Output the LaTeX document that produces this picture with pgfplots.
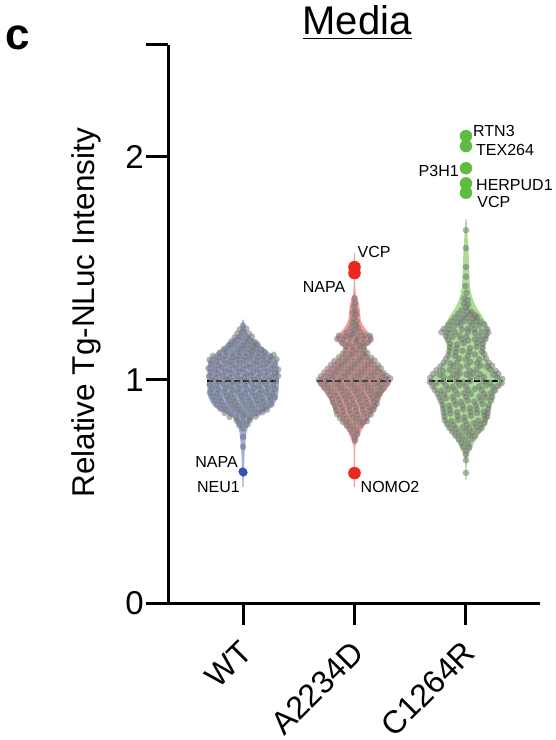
\documentclass[border=0pt]{standalone}
\usepackage{fontspec}
\setmainfont{Liberation Sans}
\usepackage{pgfplots}
\pgfplotsset{compat=1.18}
\definecolor{wtfill}{RGB}{158,175,225}
\definecolor{afill}{RGB}{243,158,152}
\definecolor{cfill}{RGB}{170,220,150}
\definecolor{wtdot}{RGB}{52,82,176}
\definecolor{adot}{RGB}{234,40,30}
\definecolor{cdot}{RGB}{94,188,64}
\begin{document}
\begin{tikzpicture}
\useasboundingbox (0,0) rectangle (556pt,740pt);
\begin{axis}[
  at={(168pt,137pt)}, anchor=south west,
  scale only axis, width=372pt, height=558pt,
  xmin=0.327, xmax=3.664, ymin=0, ymax=2.5,
  axis lines=left,
  axis line style={line width=3pt, -},
  every tick/.style={line width=3pt, black},
  tick align=outside,
  major tick length=22pt,
  xtick={1,2,3}, xticklabels={},
  ytick={0,1,2,2.5}, yticklabels={0,1,2,{}},
  /pgf/number format/assume math mode=true,
  yticklabel style={font=\fontsize{33}{36}\selectfont, inner sep=2pt},
  ylabel={Relative Tg-NLuc Intensity},
  ylabel style={at={(axis description cs:-0.22,0.52)}, anchor=center, font=\fontsize{31.5}{34}\selectfont},
  clip=false,
]
% violins
\addplot[fill=wtfill, draw=none] coordinates {
(1.005,1.27) (1.012,1.25) (1.022,1.23) (1.035,1.21) (1.075,1.19) (1.135,1.165) (1.19,1.14) (1.24,1.12) (1.285,1.10) (1.31,1.085) (1.32,1.05) (1.322,1.00) (1.32,0.95) (1.31,0.92) (1.29,0.90) (1.26,0.88) (1.22,0.865) (1.16,0.85) (1.085,0.83) (1.06,0.81) (1.045,0.79) (1.03,0.76) (1.022,0.72) (1.015,0.68) (1.01,0.62) (1.007,0.56) (1.005,0.52)
(0.995,0.52) (0.993,0.56) (0.99,0.62) (0.985,0.68) (0.978,0.72) (0.97,0.76) (0.955,0.79) (0.94,0.81) (0.915,0.83) (0.84,0.85) (0.78,0.865) (0.74,0.88) (0.71,0.90) (0.69,0.92) (0.68,0.95) (0.678,1.00) (0.68,1.05) (0.69,1.085) (0.715,1.10) (0.76,1.12) (0.81,1.14) (0.865,1.165) (0.925,1.19) (0.965,1.21) (0.978,1.23) (0.988,1.25) (0.995,1.27)
} --cycle;
\addplot[fill=afill, draw=none] coordinates {
(2.005,1.57) (2.005,1.50) (2.006,1.42) (2.012,1.385) (2.025,1.365) (2.04,1.34) (2.05,1.30) (2.055,1.27) (2.07,1.25) (2.11,1.22) (2.15,1.20) (2.165,1.185) (2.15,1.17) (2.11,1.15) (2.09,1.135) (2.12,1.11) (2.17,1.085) (2.215,1.06) (2.27,1.03) (2.305,1.01) (2.33,0.99) (2.30,0.965) (2.26,0.94) (2.23,0.915) (2.21,0.895) (2.19,0.87) (2.17,0.85) (2.13,0.83) (2.11,0.81) (2.085,0.79) (2.06,0.77) (2.04,0.75) (2.028,0.73) (2.015,0.715) (2.007,0.70) (2.005,0.62) (2.005,0.52)
(1.995,0.52) (1.995,0.62) (1.993,0.70) (1.985,0.715) (1.972,0.73) (1.96,0.75) (1.94,0.77) (1.915,0.79) (1.89,0.81) (1.87,0.83) (1.83,0.85) (1.81,0.87) (1.79,0.895) (1.77,0.915) (1.74,0.94) (1.70,0.965) (1.67,0.99) (1.695,1.01) (1.73,1.03) (1.785,1.06) (1.83,1.085) (1.88,1.11) (1.91,1.135) (1.89,1.15) (1.85,1.17) (1.835,1.185) (1.85,1.20) (1.89,1.22) (1.93,1.25) (1.945,1.27) (1.95,1.30) (1.96,1.34) (1.975,1.365) (1.988,1.385) (1.994,1.42) (1.995,1.50) (1.995,1.57)
} --cycle;
\addplot[fill=cfill, draw=none] coordinates {
(3.005,1.72) (3.012,1.66) (3.02,1.60) (3.025,1.55) (3.03,1.48) (3.035,1.42) (3.05,1.38) (3.07,1.35) (3.10,1.32) (3.14,1.29) (3.175,1.26) (3.20,1.235) (3.205,1.21) (3.19,1.18) (3.17,1.15) (3.16,1.12) (3.18,1.09) (3.23,1.06) (3.275,1.03) (3.33,1.00) (3.33,0.985) (3.29,0.96) (3.255,0.93) (3.235,0.90) (3.215,0.865) (3.205,0.83) (3.185,0.80) (3.125,0.76) (3.09,0.73) (3.065,0.71) (3.04,0.68) (3.02,0.66) (3.008,0.64) (3.005,0.58) (3.005,0.55)
(2.995,0.55) (2.995,0.58) (2.992,0.64) (2.98,0.66) (2.96,0.68) (2.935,0.71) (2.91,0.73) (2.875,0.76) (2.815,0.80) (2.795,0.83) (2.785,0.865) (2.765,0.90) (2.745,0.93) (2.71,0.96) (2.67,0.985) (2.67,1.00) (2.725,1.03) (2.77,1.06) (2.82,1.09) (2.84,1.12) (2.83,1.15) (2.81,1.18) (2.795,1.21) (2.80,1.235) (2.825,1.26) (2.86,1.29) (2.90,1.32) (2.93,1.35) (2.95,1.38) (2.965,1.42) (2.97,1.48) (2.975,1.55) (2.98,1.60) (2.988,1.66) (2.995,1.72)
} --cycle;
% swarm points
\pgfplotsset{swarm/.style={only marks, mark=*, mark size=3.3pt, mark options={fill=black!55, draw opacity=0, fill opacity=0.55}}}
\addplot[swarm] coordinates {
(1.00,1.243)
(0.972,1.226) (1.03,1.229)
(0.95,1.208) (1.005,1.213) (1.055,1.206)
(0.925,1.19) (0.98,1.195) (1.035,1.188) (1.08,1.193)
(0.895,1.172) (0.955,1.178) (1.01,1.171) (1.06,1.176) (1.105,1.17)
(0.87,1.155) (0.925,1.16) (0.985,1.153) (1.04,1.158) (1.09,1.152) (1.13,1.159)
(0.83,1.138) (0.89,1.143) (0.95,1.136) (1.005,1.141) (1.06,1.137) (1.115,1.142) (1.165,1.135)
(0.79,1.121) (0.85,1.125) (0.91,1.118) (0.97,1.123) (1.03,1.119) (1.085,1.126) (1.14,1.12) (1.195,1.124)
(0.73,1.107) (0.785,1.102) (0.845,1.108) (0.905,1.101) (0.965,1.106) (1.02,1.103) (1.08,1.109) (1.135,1.102) (1.19,1.107) (1.245,1.104) (1.275,1.112)
(0.70,1.089) (0.76,1.085) (0.82,1.091) (0.88,1.084) (0.94,1.09) (1.005,1.086) (1.06,1.092) (1.12,1.085) (1.18,1.09) (1.24,1.087) (1.30,1.092)
(0.72,1.07) (0.78,1.066) (0.845,1.072) (0.905,1.067) (0.97,1.073) (1.035,1.065) (1.095,1.071) (1.155,1.068) (1.215,1.073) (1.28,1.066)
(0.69,1.052) (0.75,1.048) (0.81,1.054) (0.875,1.047) (0.94,1.053) (1.00,1.049) (1.065,1.055) (1.125,1.048) (1.19,1.053) (1.255,1.05) (1.315,1.046)
(0.715,1.033) (0.775,1.029) (0.84,1.036) (0.90,1.03) (0.965,1.035) (1.03,1.028) (1.09,1.034) (1.155,1.031) (1.22,1.036) (1.285,1.03)
(0.695,1.015) (0.755,1.011) (0.82,1.017) (0.88,1.01) (0.945,1.016) (1.01,1.012) (1.07,1.018) (1.135,1.011) (1.20,1.016) (1.26,1.013) (1.315,1.018)
(0.725,0.997) (0.785,0.993) (0.85,0.999) (0.91,0.992) (0.975,0.998) (1.04,0.994) (1.10,1.0) (1.165,0.993) (1.23,0.998) (1.295,0.995)
(0.70,0.979) (0.76,0.975) (0.825,0.981) (0.885,0.974) (0.95,0.98) (1.015,0.976) (1.08,0.982) (1.14,0.975) (1.205,0.98) (1.27,0.977)
(0.72,0.96) (0.78,0.956) (0.845,0.962) (0.91,0.955) (0.97,0.961) (1.035,0.957) (1.10,0.963) (1.16,0.956) (1.225,0.961) (1.285,0.958)
(0.705,0.942) (0.765,0.938) (0.83,0.944) (0.89,0.937) (0.955,0.943) (1.015,0.939) (1.08,0.945) (1.145,0.938) (1.205,0.943) (1.265,0.94)
(0.73,0.924) (0.79,0.92) (0.855,0.926) (0.915,0.919) (0.98,0.925) (1.045,0.921) (1.105,0.927) (1.17,0.92) (1.235,0.925) (1.285,0.922)
(0.745,0.906) (0.805,0.902) (0.87,0.908) (0.93,0.901) (0.995,0.907) (1.06,0.903) (1.12,0.909) (1.185,0.902) (1.245,0.907)
(0.77,0.888) (0.83,0.884) (0.89,0.89) (0.955,0.883) (1.015,0.889) (1.08,0.885) (1.14,0.891) (1.205,0.884) (1.255,0.889)
(0.80,0.87) (0.86,0.866) (0.92,0.872) (0.985,0.865) (1.045,0.871) (1.11,0.867) (1.17,0.872) (1.215,0.866)
(0.835,0.852) (0.895,0.848) (0.955,0.854) (1.015,0.847) (1.075,0.853) (1.135,0.849) (1.175,0.855)
(0.88,0.834) (0.94,0.83) (1.00,0.836) (1.06,0.829) (1.11,0.835)
(0.945,0.816) (1.00,0.812) (1.06,0.818)
(0.965,0.798) (1.04,0.8)
(1.00,0.782)
(1.00,0.745)
(1.00,0.70)
};
\addplot[swarm] coordinates {
(2.00,1.365) (2.005,1.345) (1.995,1.327) (2.01,1.309) (1.985,1.30) (2.015,1.29) (1.99,1.275) (2.02,1.262) (1.98,1.255) (2.01,1.245)
(1.965,1.232) (2.03,1.235) (2.00,1.222)
(1.93,1.212) (1.99,1.208) (2.05,1.214)
(1.86,1.198) (1.915,1.195) (1.97,1.2) (2.03,1.193) (2.09,1.199) (2.14,1.196)
(1.845,1.183) (1.90,1.18) (1.96,1.186) (2.02,1.179) (2.08,1.184) (2.145,1.18)
(1.89,1.165) (1.95,1.162) (2.01,1.168) (2.07,1.163) (2.12,1.167)
(1.925,1.15) (1.985,1.146) (2.045,1.152) (2.085,1.148)
(1.92,1.133) (1.98,1.13) (2.04,1.136) (2.09,1.131)
(1.895,1.117) (1.955,1.114) (2.015,1.12) (2.075,1.115) (2.115,1.12)
(1.86,1.101) (1.92,1.097) (1.98,1.103) (2.04,1.098) (2.10,1.104) (2.15,1.099)
(1.82,1.084) (1.88,1.08) (1.94,1.086) (2.00,1.081) (2.06,1.087) (2.12,1.082) (2.18,1.086)
(1.79,1.067) (1.85,1.063) (1.91,1.069) (1.97,1.064) (2.03,1.07) (2.09,1.065) (2.15,1.07) (2.21,1.066)
(1.76,1.05) (1.82,1.046) (1.88,1.052) (1.94,1.047) (2.00,1.053) (2.06,1.048) (2.12,1.054) (2.18,1.049) (2.235,1.052)
(1.73,1.033) (1.79,1.029) (1.85,1.035) (1.91,1.03) (1.97,1.036) (2.03,1.031) (2.09,1.037) (2.15,1.032) (2.21,1.036) (2.26,1.03)
(1.70,1.016) (1.76,1.012) (1.82,1.018) (1.88,1.013) (1.94,1.019) (2.00,1.014) (2.06,1.02) (2.12,1.015) (2.18,1.019) (2.24,1.013) (2.29,1.018)
(1.68,0.999) (1.74,0.995) (1.80,1.001) (1.86,0.996) (1.92,1.002) (1.98,0.997) (2.04,1.003) (2.10,0.998) (2.16,1.002) (2.22,0.996) (2.28,1.0) (2.32,1.006)
(1.70,0.982) (1.76,0.978) (1.82,0.984) (1.88,0.979) (1.94,0.985) (2.00,0.98) (2.06,0.986) (2.12,0.981) (2.18,0.985) (2.24,0.979) (2.29,0.983)
(1.73,0.965) (1.79,0.961) (1.85,0.967) (1.91,0.962) (1.97,0.968) (2.03,0.963) (2.09,0.969) (2.15,0.964) (2.21,0.968) (2.26,0.962)
(1.76,0.948) (1.82,0.944) (1.88,0.95) (1.94,0.945) (2.00,0.951) (2.06,0.946) (2.12,0.952) (2.18,0.947) (2.235,0.951)
(1.78,0.931) (1.84,0.927) (1.90,0.933) (1.96,0.928) (2.02,0.934) (2.08,0.929) (2.14,0.935) (2.20,0.93) (2.225,0.936)
(1.80,0.914) (1.86,0.91) (1.92,0.916) (1.98,0.911) (2.04,0.917) (2.10,0.912) (2.16,0.918) (2.205,0.913)
(1.81,0.897) (1.87,0.893) (1.93,0.899) (1.99,0.894) (2.05,0.9) (2.11,0.895) (2.17,0.9) (2.2,0.893)
(1.83,0.88) (1.89,0.876) (1.95,0.882) (2.01,0.877) (2.07,0.883) (2.13,0.878) (2.18,0.882)
(1.835,0.863) (1.895,0.859) (1.955,0.865) (2.015,0.86) (2.075,0.866) (2.135,0.861) (2.17,0.866)
(1.845,0.846) (1.905,0.842) (1.965,0.848) (2.025,0.843) (2.085,0.849) (2.145,0.844)
(1.87,0.829) (1.93,0.825) (1.99,0.831) (2.05,0.826) (2.11,0.832)
(1.895,0.812) (1.955,0.808) (2.015,0.814) (2.075,0.809) (2.11,0.815)
(1.93,0.795) (1.99,0.791) (2.05,0.797)
(1.96,0.778) (2.02,0.774)
(1.98,0.76) (2.025,0.757)
(2.00,0.742)
(2.005,0.728)
};
\addplot[swarm] coordinates {
(3.0,1.67) (3.0,1.59) (3.0,1.505) (3.0,1.462) (2.995,1.42) (3.005,1.39)
(2.985,1.365) (3.015,1.358) (2.98,1.342) (3.02,1.336) (3.0,1.325)
(2.96,1.312) (3.01,1.308) (3.05,1.305)
(2.93,1.295) (2.985,1.29) (3.04,1.293) (3.08,1.289)
(2.90,1.278) (2.955,1.274) (3.01,1.279) (3.065,1.275) (3.10,1.28)
(2.87,1.262) (2.925,1.258) (2.98,1.263) (3.035,1.259) (3.09,1.264) (3.13,1.26)
(2.84,1.245) (2.895,1.241) (2.95,1.246) (3.06,1.247) (3.115,1.243) (3.165,1.248)
(2.80,1.228) (2.855,1.224) (2.965,1.225) (3.02,1.23) (3.075,1.226) (3.19,1.227)
(2.78,1.213) (2.84,1.21) (2.90,1.214) (3.02,1.215) (3.08,1.21) (3.14,1.216) (3.20,1.212)
(2.82,1.196) (2.88,1.192) (2.94,1.198) (3.0,1.193) (3.12,1.194) (3.18,1.198)
(2.84,1.179) (2.96,1.181) (3.02,1.176) (3.08,1.182) (3.14,1.177) (3.175,1.183)
(2.86,1.162) (2.92,1.158) (2.98,1.164) (3.10,1.165) (3.15,1.16)
(2.855,1.145) (2.915,1.141) (3.035,1.142) (3.095,1.148) (3.15,1.143)
(2.85,1.128) (2.91,1.124) (2.97,1.13) (3.03,1.125) (3.145,1.126)
(2.84,1.111) (2.90,1.107) (3.02,1.108) (3.08,1.114) (3.165,1.115)
(2.82,1.094) (2.94,1.096) (3.0,1.091) (3.12,1.092) (3.18,1.096)
(2.80,1.077) (2.86,1.073) (2.92,1.079) (3.04,1.08) (3.10,1.075) (3.205,1.076)
(2.77,1.06) (2.89,1.062) (2.95,1.057) (3.01,1.063) (3.13,1.064) (3.19,1.059) (3.235,1.063)
(2.735,1.043) (2.795,1.039) (2.855,1.045) (2.915,1.04) (3.035,1.041) (3.095,1.047) (3.215,1.046) (3.265,1.04)
(2.705,1.026) (2.765,1.022) (2.885,1.023) (2.945,1.029) (3.005,1.024) (3.065,1.03) (3.125,1.025) (3.245,1.023) (3.29,1.027)
(2.68,1.009) (2.80,1.011) (2.86,1.006) (2.92,1.012) (3.04,1.013) (3.10,1.008) (3.16,1.012) (3.28,1.01) (3.325,1.004)
(2.675,0.99) (2.735,0.986) (2.795,0.992) (2.915,0.993) (2.975,0.988) (3.035,0.994) (3.155,0.993) (3.215,0.987) (3.32,0.985)
(2.70,0.972) (2.82,0.974) (2.88,0.969) (2.94,0.975) (3.0,0.97) (3.12,0.971) (3.18,0.975) (3.24,0.969) (3.29,0.973)
(2.72,0.955) (2.78,0.951) (2.84,0.957) (2.90,0.952) (3.02,0.953) (3.08,0.959) (3.14,0.954) (3.26,0.952)
(2.745,0.938) (2.805,0.934) (2.925,0.935) (2.985,0.941) (3.045,0.936) (3.165,0.937) (3.225,0.941)
(2.76,0.921) (2.82,0.917) (2.88,0.923) (3.0,0.924) (3.12,0.925) (3.18,0.92) (3.235,0.924)
(2.775,0.904) (2.895,0.906) (2.955,0.901) (3.015,0.907) (3.075,0.902) (3.135,0.908) (3.225,0.907)
(2.79,0.887) (2.85,0.883) (2.91,0.889) (2.97,0.884) (3.09,0.885) (3.15,0.891) (3.205,0.886)
(2.795,0.87) (2.855,0.866) (2.975,0.867) (3.035,0.873) (3.095,0.868) (3.20,0.869)
(2.80,0.853) (2.86,0.849) (2.92,0.855) (3.04,0.856) (3.10,0.851) (3.16,0.857) (3.195,0.852)
(2.805,0.836) (2.925,0.838) (2.985,0.833) (3.045,0.839) (3.165,0.84) (3.19,0.835)
(2.81,0.819) (2.87,0.815) (2.93,0.821) (2.99,0.816) (3.11,0.817) (3.17,0.823)
(2.83,0.802) (2.89,0.798) (3.01,0.799) (3.07,0.805) (3.13,0.8) (3.165,0.806)
(2.85,0.785) (2.91,0.781) (2.97,0.787) (3.03,0.782) (3.09,0.788) (3.14,0.783)
(2.875,0.768) (2.935,0.764) (2.995,0.77) (3.055,0.765) (3.11,0.771)
(2.905,0.751) (2.965,0.747) (3.025,0.753) (3.08,0.748)
(2.935,0.734) (2.995,0.73) (3.05,0.736)
(2.96,0.717) (3.02,0.713)
(2.975,0.70) (3.03,0.697)
(3.0,0.683) (3.0,0.665) (3.0,0.64) (3.0,0.583)
};
% medians
\addplot[black, line width=2pt, dash pattern=on 6pt off 3pt] coordinates {(0.677,0.994) (1.316,0.994)};
\addplot[black, line width=2pt, dash pattern=on 6pt off 3pt] coordinates {(1.668,0.994) (2.325,0.994)};
\addplot[black, line width=2pt, dash pattern=on 6pt off 3pt] coordinates {(2.668,0.994) (3.325,0.994)};
% hits
\addplot[only marks, mark=*, mark size=3.9pt, color=wtdot] coordinates {(0.996,0.589) (1.004,0.585)};
\addplot[only marks, mark=*, mark size=6pt, color=adot] coordinates {(2,1.505) (2,1.478) (2,0.582)};
\addplot[only marks, mark=*, mark size=6pt, color=cdot] coordinates {(3,2.092) (3,2.047) (3,1.948) (3,1.880) (3,1.838)};
% annotations
\begin{scope}[every node/.style={inner sep=0pt, font=\fontsize{16}{18}\selectfont}]
\node[anchor=base east] at (axis cs:0.955,0.605) {NAPA};
\node[anchor=base east] at (axis cs:0.973,0.497) {NEU1};
\node[anchor=base west] at (axis cs:2.027,1.546) {VCP};
\node[anchor=base east] at (axis cs:1.919,1.393) {NAPA};
\node[anchor=base west] at (axis cs:2.054,0.493) {NOMO2};
\node[anchor=base west] at (axis cs:3.063,2.088) {RTN3};
\node[anchor=base west] at (axis cs:3.09,2.007) {TEX264};
\node[anchor=base east] at (axis cs:2.937,1.913) {P3H1};
\node[anchor=base west] at (axis cs:3.09,1.85) {HERPUD1};
\node[anchor=base west] at (axis cs:3.10,1.77) {VCP};
\end{scope}
% category labels
\node[rotate=45, anchor=north east, inner sep=0pt, font=\fontsize{32}{34}\selectfont] at (axis cs:0.960,-0.161) {WT};
\node[rotate=45, anchor=north east, inner sep=0pt, font=\fontsize{32}{34}\selectfont] at (axis cs:1.960,-0.161) {A2234D};
\node[rotate=45, anchor=north east, inner sep=0pt, font=\fontsize{32}{34}\selectfont] at (axis cs:2.960,-0.161) {C1264R};
\end{axis}
\node[anchor=base, inner sep=0pt, font=\fontsize{40}{44}\selectfont] at (357pt,705pt) {Media};
\draw[line width=1.8pt] (302.5pt,701.5pt) -- (411.5pt,701.5pt);
\node[anchor=base west, inner sep=0pt, font=\bfseries\fontsize{44}{44}\selectfont] at (5pt,690pt) {c};
\end{tikzpicture}
\end{document}
